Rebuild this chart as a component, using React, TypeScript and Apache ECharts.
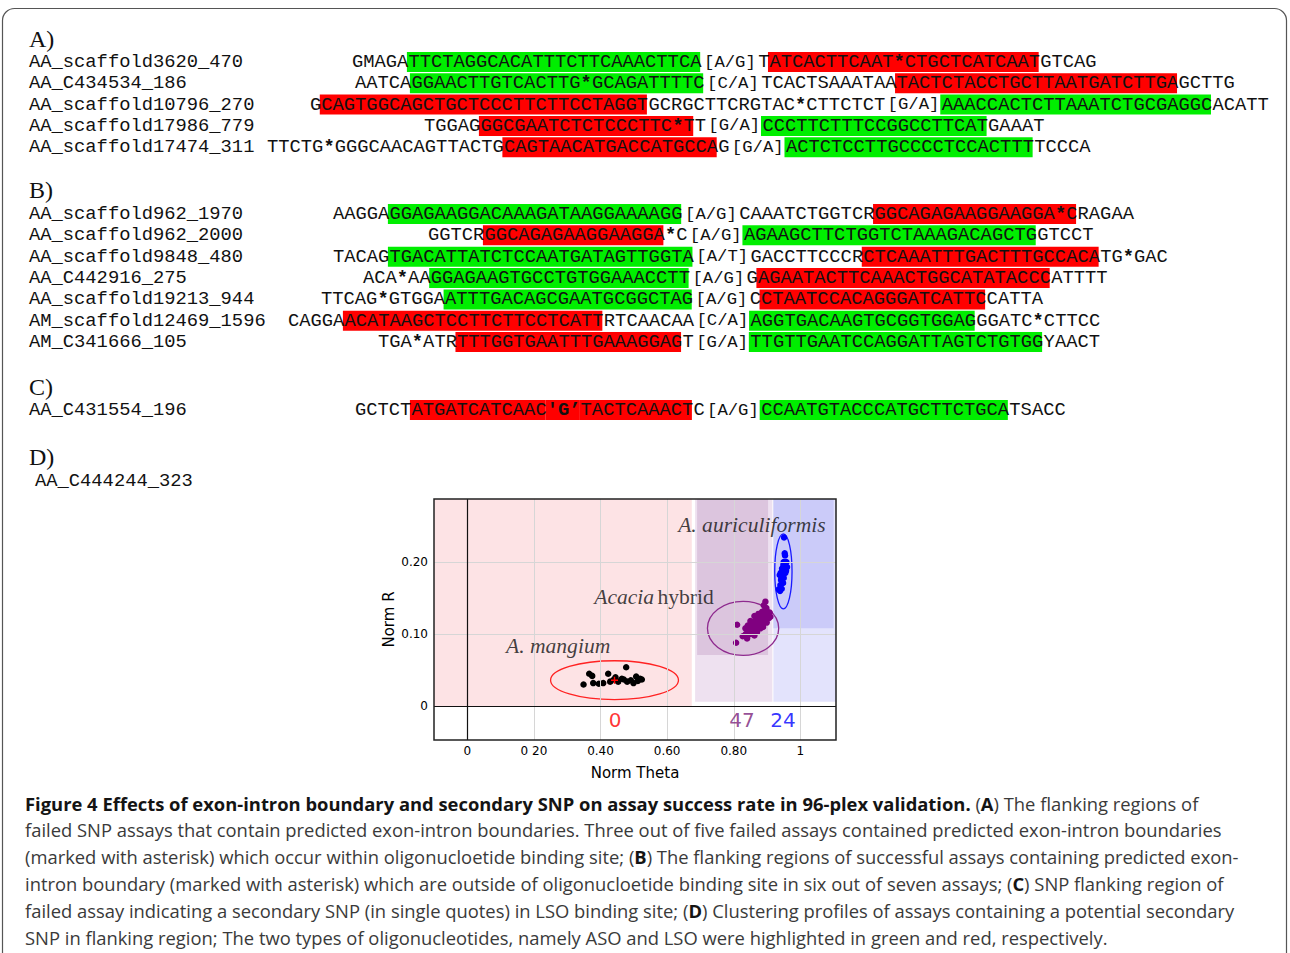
import { useEffect, useRef } from 'react';
import * as echarts from 'echarts';

// ---------------- Panels A-C: sequence content ----------------
type Seg = [string, string]; // kind: p plain, g ASO(green), r LSO(red), rb red bold, s SNP

const namesA = ['AA_scaffold3620_470', 'AA_C434534_186', 'AA_scaffold10796_270', 'AA_scaffold17986_779', 'AA_scaffold17474_311'];
const seqsA: Seg[][] = [
  [['p', 'GMAGA'], ['g', 'TTCTAGGCACATTTCTTCAAACTTCA'], ['s', '[A/G]'], ['p', 'T'], ['r', 'ATCACTTCAAT*CTGCTCATCAAT'], ['p', 'GTCAG']],
  [['p', 'AATCA'], ['g', 'GGAACTTGTCACTTG*GCAGATTTTC'], ['s', '[C/A]'], ['p', 'TCACTSAAATAA'], ['r', 'TACTCTACCTGCTTAATGATCTTGA'], ['p', 'GCTTG']],
  [['p', 'G'], ['r', 'CAGTGGCAGCTGCTCCCTTCTTCCTAGGT'], ['p', 'GCRGCTTCRGTAC*CTTCTCT'], ['s', '[G/A]'], ['g', 'AAACCACTCTTAAATCTGCGAGGC'], ['p', 'ACATT']],
  [['p', 'TGGAG'], ['r', 'GGCGAATCTCTCCCTTC*T'], ['p', 'T'], ['s', '[G/A]'], ['g', 'CCCTTCTTTCCGGCCTTCAT'], ['p', 'GAAAT']],
  [['p', 'TTCTG*GGGCAACAGTTACTG'], ['r', 'CAGTAACATGACCATGCCA'], ['p', 'G'], ['s', '[G/A]'], ['g', 'ACTCTCCTTGCCCCTCCACTTT'], ['p', 'TCCCA']],
];
const namesB = ['AA_scaffold962_1970', 'AA_scaffold962_2000', 'AA_scaffold9848_480', 'AA_C442916_275', 'AA_scaffold19213_944', 'AM_scaffold12469_1596', 'AM_C341666_105'];
const seqsB: Seg[][] = [
  [['p', 'AAGGA'], ['g', 'GGAGAAGGACAAAGATAAGGAAAAGG'], ['s', '[A/G]'], ['p', 'CAAATCTGGTCR'], ['r', 'GGCAGAGAAGGAAGGA*C'], ['p', 'RAGAA']],
  [['p', 'GGTCR'], ['r', 'GGCAGAGAAGGAAGGA'], ['p', '*C'], ['s', '[A/G]'], ['g', 'AGAAGCTTCTGGTCTAAAGACAGCTG'], ['p', 'GTCCT']],
  [['p', 'TACAG'], ['g', 'TGACATTATCTCCAATGATAGTTGGTA'], ['s', '[A/T]'], ['p', 'GACCTTCCCR'], ['r', 'CTCAAATTTGACTTTGCCACA'], ['p', 'TG*GAC']],
  [['p', 'ACA*AA'], ['g', 'GGAGAAGTGCCTGTGGAAACCTT'], ['s', '[A/G]'], ['p', 'G'], ['r', 'AGAATACTTCAAACTGGCATATACCC'], ['p', 'ATTTT']],
  [['p', 'TTCAG*GTGGA'], ['g', 'ATTTGACAGCGAATGCGGCTAG'], ['s', '[A/G]'], ['p', 'C'], ['r', 'CTAATCCACAGGGATCATTC'], ['p', 'CATTA']],
  [['p', 'CAGGA'], ['r', 'ACATAAGCTCCTTCTTCCTCATT'], ['p', 'RTCAACAA'], ['s', '[C/A]'], ['g', 'AGGTGACAAGTGCGGTGGAG'], ['p', 'GGATC*CTTCC']],
  [['p', 'TGA*ATR'], ['r', 'TTTGGTGAATTTGAAAGGAG'], ['p', 'T'], ['s', '[G/A]'], ['g', 'TTGTTGAATCCAGGATTAGTCTGTGG'], ['p', 'YAACT']],
];
const namesC = ['AA_C431554_196'];
const seqsC: Seg[][] = [
  [['p', 'GCTCT'], ['r', 'ATGATCATCAAC'], ['rb', "'G’"], ['r', 'TACTCAAACT'], ['p', 'C'], ['s', '[A/G]'], ['g', 'CCAATGTACCCATGCTTCTGCA'], ['p', 'TSACC']],
];
const nameD = 'AA_C444244_323';
const panelLetters = ['A)', 'B)', 'C)', 'D)'];

// ---------------- Panel D: cluster plot data ----------------
const xTickValues = [0, 0.2, 0.4, 0.6, 0.8, 1];
const xTickText = ['0', '0 20', '0.40', '0.60', '0.80', '1'];
const yTickValues = [0, 0.1, 0.2];
const yTickText = ['0', '0.10', '0.20'];
const gridTheta = [0.2, 0.4, 0.6, 0.8, 1.0];
const gridR = [0.1, 0.2];

// zones: [theta0, theta1, r0, r1]
const zoneMangium = [-0.1, 0.674, 0, 0.2875];
const zoneHybridOuter = [0.684, 0.916, 0.006, 0.2875];
const zoneHybridCore = [0.69, 0.903, 0.071, 0.2875];
const zoneAuriOuter = [0.919, 1.107, 0.006, 0.2875];
const zoneAuriCore = [0.919, 1.1, 0.108, 0.2875];

const mangiumPts = [
  [0.349, 0.030], [0.366, 0.045], [0.375, 0.042], [0.378, 0.032], [0.395, 0.031], [0.408, 0.032], [0.423, 0.045],
  [0.429, 0.034], [0.440, 0.037], [0.445, 0.040], [0.453, 0.034], [0.464, 0.038], [0.470, 0.037], [0.477, 0.054],
  [0.480, 0.034], [0.491, 0.036], [0.499, 0.032], [0.507, 0.041], [0.512, 0.035], [0.519, 0.038], [0.524, 0.037],
];
const mangiumCentre = [0.442, 0.036];
const hybridPts = [
  [0.807, 0.088], [0.810, 0.113], [0.827, 0.097], [0.840, 0.094], [0.835, 0.108], [0.850, 0.118], [0.855, 0.101],
  [0.865, 0.105], [0.875, 0.110], [0.880, 0.117], [0.885, 0.124], [0.895, 0.145], [0.898, 0.136], [0.905, 0.122],
  [0.910, 0.124], [0.890, 0.115], [0.870, 0.103], [0.860, 0.110], [0.845, 0.105], [0.900, 0.129], [0.885, 0.131],
  [0.872, 0.115], [0.862, 0.098], [0.878, 0.121], [0.892, 0.126], [0.868, 0.112], [0.852, 0.108], [0.842, 0.112],
  [0.888, 0.110], [0.896, 0.119], [0.858, 0.103], [0.876, 0.125], [0.903, 0.127], [0.883, 0.119], [0.866, 0.119],
  [0.848, 0.100], [0.893, 0.133], [0.880, 0.108], [0.874, 0.128], [0.857, 0.114], [0.908, 0.130], [0.836, 0.100],
  [0.890, 0.140], [0.870, 0.122], [0.862, 0.125], [0.899, 0.116], [0.882, 0.113],
];
const auriPts = [
  [0.951, 0.234], [0.953, 0.212], [0.950, 0.200], [0.955, 0.195], [0.945, 0.191], [0.960, 0.193], [0.938, 0.182],
  [0.950, 0.178], [0.942, 0.175], [0.948, 0.171], [0.935, 0.162], [0.944, 0.163], [0.955, 0.185], [0.958, 0.200],
  [0.947, 0.186], [0.940, 0.168], [0.952, 0.190], [0.946, 0.180], [0.957, 0.188], [0.943, 0.177], [0.949, 0.196],
  [0.939, 0.160], [0.954, 0.209], [0.941, 0.185],
];
// ellipses: [cTheta, cR, rTheta, rR]
const ellipseMangium = [0.442, 0.036, 0.192, 0.027];
const ellipseHybrid = [0.828, 0.108, 0.107, 0.0375];
const ellipseAuri = [0.949, 0.187, 0.026, 0.052];

const countLabels = ['0', '47', '24'];
const countTheta = [0.444, 0.825, 0.948];
const countR = -0.019;
const speciesLabels = ['{i|A. mangium}', '{i|Acacia} {n|hybrid}', '{i|A. auriculiformis}'];
const speciesPos = [[0.116, 0.083], [0.381, 0.151], [0.633, 0.251]];

// ---------------- Caption ----------------
const captionLines: [number, string][][] = [
  [[1, 'Figure 4 Effects of exon-intron boundary and secondary SNP on assay success rate in 96-plex validation.'], [0, ' ('], [1, 'A'], [0, ') The flanking regions of']],
  [[0, 'failed SNP assays that contain predicted exon-intron boundaries. Three out of five failed assays contained predicted exon-intron boundaries']],
  [[0, '(marked with asterisk) which occur within oligonucloetide binding site; ('], [1, 'B'], [0, ') The flanking regions of successful assays containing predicted exon-']],
  [[0, 'intron boundary (marked with asterisk) which are outside of oligonucloetide binding site in six out of seven assays; ('], [1, 'C'], [0, ') SNP flanking region of']],
  [[0, 'failed assay indicating a secondary SNP (in single quotes) in LSO binding site; ('], [1, 'D'], [0, ') Clustering profiles of assays containing a potential secondary']],
  [[0, 'SNP in flanking region; The two types of oligonucleotides, namely ASO and LSO were highlighted in green and red, respectively.']],
];

// ---------------- Styling / layout ----------------
const MONO = "'Liberation Mono','Courier New',monospace";
const SERIF = "'Liberation Serif','Times New Roman',serif";
const SANS = "'DejaVu Sans',Verdana,sans-serif";
const CAP = "'Open Sans','Noto Sans',sans-serif";
const FS = 18.8;
const CW = FS * 0.6;
const SNPW = 56.5;
const GREEN = '#00ee00';
const RED = '#ff0000';

const startA = [352, 355, 310, 424, 267];
const startB = [333, 428, 333, 363, 321, 288, 378];
const startC = [355];

function t(x: number, y: number, text: string, o: any = {}) {
  return {
    type: 'text', x, y, z: o.z ?? 10, silent: true,
    style: {
      text, fill: o.fill ?? '#111', fontFamily: o.family ?? MONO, fontSize: o.size ?? FS,
      fontWeight: o.weight ?? 'normal', fontStyle: o.fstyle ?? 'normal',
      align: o.align ?? 'left', textAlign: o.align ?? 'left',
      verticalAlign: 'middle', textVerticalAlign: 'middle',
      rich: o.rich,
    },
  };
}

function seqRow(out: any[], name: string, segs: Seg[], sx: number, y: number) {
  out.push(t(29, y, name));
  let x = sx;
  for (const [k, s] of segs) {
    if (k === 's') {
      out.push(t(x + SNPW / 2, y, s, { size: 17.3, align: 'center' }));
      x += SNPW;
      continue;
    }
    const w = s.length * CW;
    if (k !== 'p') {
      out.push({ type: 'rect', z: 5, silent: true, shape: { x: x - 1.5, y: y - 10, width: w, height: 20 }, style: { fill: k === 'g' ? GREEN : RED } });
    }
    let cx = x;
    for (const part of s.split(/(\*)/)) {
      if (!part) continue;
      out.push(t(cx, y, part, { weight: part === '*' || k === 'rb' ? 'bold' : 'normal' }));
      cx += part.length * CW;
    }
    x += w;
  }
}

export default function App() {
  const ref = useRef<HTMLDivElement>(null);
  useEffect(() => {
    const chart = echarts.init(ref.current!, null, { renderer: 'svg' });
    const g: any[] = [];
    // figure frame
    g.push({ type: 'rect', z: 0, silent: true, shape: { x: 2.5, y: 8.5, width: 1284, height: 1000, r: 12 }, style: { fill: 'none', stroke: '#555', lineWidth: 1.2 } });
    // panel letters
    [39, 190, 387, 457].forEach((y, i) => g.push(t(29, y, panelLetters[i], { family: SERIF, size: 24 })));
    namesA.forEach((n, i) => seqRow(g, n, seqsA[i], startA[i], 62 + i * 21.3));
    namesB.forEach((n, i) => seqRow(g, n, seqsB[i], startB[i], 214 + i * 21.35));
    namesC.forEach((n, i) => seqRow(g, n, seqsC[i], startC[i], 410));
    g.push(t(35, 481, nameD));
    // plot frame
    g.push({ type: 'rect', z: 100, silent: true, shape: { x: 434, y: 499, width: 402, height: 241 }, style: { fill: 'none', stroke: '#222', lineWidth: 1.5 } });

    // caption font size fitted to the reference line width
    const ctx = document.createElement('canvas').getContext('2d')!;
    ctx.font = `100px ${CAP}`;
    const wRef = ctx.measureText(captionLines[1][0][1]).width;
    const capSize = Math.max(14, Math.min(20, (100 * 1197) / wRef));
    const capRich = {
      b: { fontFamily: CAP, fontSize: capSize, fontWeight: 'bold', fill: '#141414', color: '#141414' },
      n: { fontFamily: CAP, fontSize: capSize, fontWeight: 'normal', fill: '#3a3a3a', color: '#3a3a3a' },
    };
    captionLines.forEach((line, i) => {
      const txt = line.map(([b, s]) => `{${b ? 'b' : 'n'}|${s}}`).join('');
      g.push(t(25, 803 + i * 26.8, txt, { family: CAP, size: capSize, rich: capRich }));
    });

    const zones = [zoneMangium, zoneHybridOuter, zoneHybridCore, zoneAuriOuter, zoneAuriCore];
    const zoneColors = ['#fde3e5', '#eee1f0', '#dcc5de', '#e3e3fc', '#cbcbf9'];
    const ellipses = [ellipseMangium, ellipseHybrid, ellipseAuri];
    const ellipseColors = ['#ff2222', '#8e2a8e', '#1a1aff'];
    const countColors = ['#ff0000', '#7a1f7a', '#0000ff'];

    const option: any = {
      animation: false,
      grid: { left: 434, top: 499, width: 402, height: 241, show: false },
      xAxis: {
        type: 'value', min: -0.1, max: 1.107,
        axisLine: { show: false }, axisTick: { show: false }, splitLine: { show: false },
        axisLabel: {
          customValues: xTickValues, margin: 5, fontFamily: SANS, fontSize: 12, color: '#000',
          formatter: (v: number) => xTickText[xTickValues.findIndex((q) => Math.abs(q - v) < 1e-6)] ?? '',
        },
        name: 'Norm Theta', nameLocation: 'middle', nameGap: 25,
        nameTextStyle: { fontFamily: SANS, fontSize: 15, color: '#000' },
      },
      yAxis: {
        type: 'value', min: -0.047, max: 0.2875,
        axisLine: { show: false }, axisTick: { show: false }, splitLine: { show: false },
        axisLabel: {
          customValues: yTickValues, margin: 6, fontFamily: SANS, fontSize: 12, color: '#000',
          formatter: (v: number) => yTickText[yTickValues.findIndex((q) => Math.abs(q - v) < 1e-6)] ?? '',
        },
        name: 'Norm R', nameLocation: 'middle', nameGap: 38, nameRotate: 90,
        nameTextStyle: { fontFamily: SANS, fontSize: 15, color: '#000' },
      },
      graphic: g,
      series: [
        {
          type: 'custom', name: 'zones', coordinateSystem: 'cartesian2d', z: 1, silent: true, clip: true,
          encode: { x: [0, 1], y: [2, 3] },
          data: zones.map((z, i) => ({ value: z, itemStyle: { color: zoneColors[i] } })),
          renderItem: (_p: any, api: any) => {
            const p0 = api.coord([api.value(0), api.value(3)]);
            const p1 = api.coord([api.value(1), api.value(2)]);
            return { type: 'rect', shape: { x: p0[0], y: p0[1], width: p1[0] - p0[0], height: p1[1] - p0[1] }, style: { fill: api.visual('color') } };
          },
        },
        {
          type: 'scatter', name: 'grid', z: 2, silent: true, data: [],
          markLine: {
            silent: true, symbol: ['none', 'none'], label: { show: false }, animation: false,
            lineStyle: { color: '#d6d6d6', width: 1, type: 'solid' },
            emphasis: { disabled: true },
            data: [
              ...gridTheta.map((v) => ({ xAxis: v })),
              ...gridR.map((v) => ({ yAxis: v })),
              { xAxis: 0, lineStyle: { color: '#111', width: 1.2, type: 'solid' } },
              { yAxis: 0, lineStyle: { color: '#111', width: 1.2, type: 'solid' } },
            ],
          },
        },
        {
          type: 'custom', name: 'ellipses', coordinateSystem: 'cartesian2d', z: 3, silent: true,
          encode: { x: [0], y: [1] },
          data: ellipses.map((e, i) => ({ value: e, itemStyle: { color: ellipseColors[i] } })),
          renderItem: (_p: any, api: any) => {
            const c = api.coord([api.value(0), api.value(1)]);
            const s = api.size([api.value(2), api.value(3)]);
            return { type: 'ellipse', shape: { cx: c[0], cy: c[1], rx: s[0], ry: s[1] }, style: { fill: 'none', stroke: api.visual('color'), lineWidth: 1.3 } };
          },
        },
        { type: 'scatter', name: 'A. mangium', z: 4, silent: true, symbolSize: 6.5, itemStyle: { color: '#000', opacity: 1 }, data: mangiumPts },
        { type: 'scatter', name: 'Acacia hybrid', z: 4, silent: true, symbolSize: 6.5, itemStyle: { color: '#800080', opacity: 1 }, data: hybridPts },
        { type: 'scatter', name: 'A. auriculiformis', z: 4, silent: true, symbolSize: 6.5, itemStyle: { color: '#0000ff', opacity: 1 }, data: auriPts },
        {
          type: 'scatter', name: 'centre', z: 5, silent: true, symbol: 'path://M4,0h2v10h-2zM0,4h10v2h-10z', symbolSize: 7,
          itemStyle: { color: '#ff0000', opacity: 1 }, data: [mangiumCentre],
        },
        {
          type: 'scatter', name: 'counts', z: 6, silent: true, symbolSize: 0,
          data: countLabels.map((c, i) => ({ value: [countTheta[i], countR], name: c, label: { color: countColors[i] } })),
          label: { show: true, position: 'inside', formatter: '{b}', fontFamily: SANS, fontSize: 20 },
        },
        {
          type: 'scatter', name: 'species', z: 6, silent: true, symbolSize: 0,
          data: speciesPos.map((p, i) => ({ value: p, name: speciesLabels[i] })),
          label: {
            show: true, position: 'right', distance: 0, formatter: '{b}', align: 'left', verticalAlign: 'middle',
            rich: {
              i: { fontFamily: SERIF, fontStyle: 'italic', fontSize: 21.6, color: '#111' },
              n: { fontFamily: SERIF, fontSize: 21.6, color: '#111' },
            },
          },
        },
      ],
    };
    chart.setOption(option);
    return () => chart.dispose();
  }, []);
  return <div ref={ref} style={{ position: 'absolute', left: 0, top: 0, width: 1290, height: 953, background: '#fff' }} />;
}
